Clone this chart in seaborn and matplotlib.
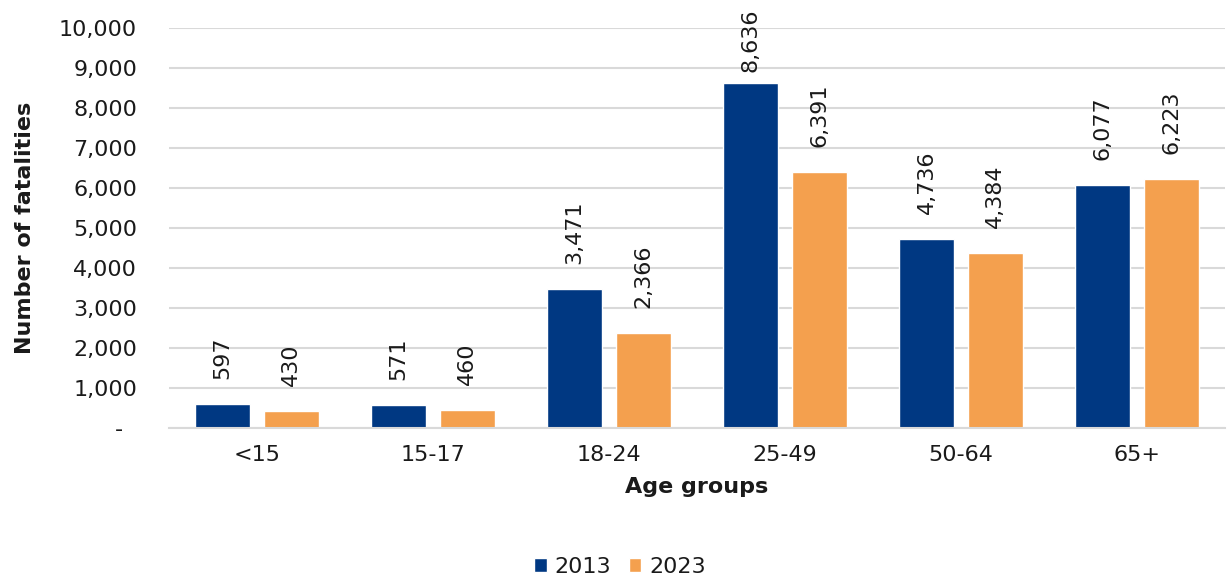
import pandas as pd
import matplotlib.pyplot as plt
import seaborn as sns
from matplotlib.ticker import FuncFormatter

# data
age_groups = ["<15", "15-17", "18-24", "25-49", "50-64", "65+"]
years = ["2013", "2023"]
fatalities_2013 = [597, 571, 3471, 8636, 4736, 6077]
fatalities_2023 = [430, 460, 2366, 6391, 4384, 6223]

df = pd.DataFrame({
    "Age group": age_groups * 2,
    "Year": [years[0]] * len(age_groups) + [years[1]] * len(age_groups),
    "Fatalities": fatalities_2013 + fatalities_2023,
})

sns.set_theme(style="white")
plt.rcParams["font.family"] = ["DejaVu Sans"]

colors = {"2013": "#003882", "2023": "#F4A04E"}
FS = 16
TXT = "#1a1a1a"

fig = plt.figure(figsize=(12.28, 5.83), dpi=100)
ax = fig.add_axes([0.1376, 0.266, 0.86, 0.686])

sns.barplot(data=df, x="Age group", y="Fatalities", hue="Year",
            palette=colors, width=0.78, gap=0.2, ax=ax, saturation=1)

ax.set_ylim(0, 10000)

# value labels above bars, rotated; pushed down if they would leave the figure
ax_h_px = ax.get_position().height * fig.get_figheight() * fig.dpi
top_px = (1 - ax.get_position().y1) * fig.get_figheight() * fig.dpi
label_len_px = 66
for cont in ax.containers:
    for bar, v in zip(cont, cont.datavalues):
        bar_top = top_px + (10000 - v) / 10000 * ax_h_px
        pad_px = min(25, bar_top - label_len_px - 6)
        ax.annotate(f"{v:,.0f}", (bar.get_x() + bar.get_width() / 2, v),
                    xytext=(0, pad_px * 72 / fig.dpi), textcoords="offset points",
                    rotation=90, ha="center", va="bottom", fontsize=FS, color=TXT,
                    annotation_clip=False)

# accounting style: zero shown as a dash
ax.set_yticks(range(0, 10001, 1000))
ax.yaxis.set_major_formatter(FuncFormatter(lambda v, p: "-  " if v == 0 else f"{v:,.0f}"))
ax.grid(axis="y", color="#d9d9d9", linewidth=1.5)
ax.set_axisbelow(True)
for s in ["top", "right", "left"]:
    ax.spines[s].set_visible(False)
ax.spines["bottom"].set_color("#d9d9d9")
ax.spines["bottom"].set_linewidth(1.5)

ax.tick_params(axis="both", length=0, labelsize=FS, colors=TXT)
ax.tick_params(axis="y", pad=23)
ax.tick_params(axis="x", pad=12)
ax.set_xlabel("Age groups", fontsize=FS, fontweight="bold", labelpad=9, color=TXT)
ax.set_ylabel("Number of fatalities", fontsize=FS, fontweight="bold", labelpad=17, color=TXT)

handles, labels = ax.get_legend_handles_labels()
ax.get_legend().remove()
fig.legend(handles, labels, loc="center", bbox_to_anchor=(620 / 1228, 1 - 567 / 583),
           ncol=2, frameon=False, fontsize=FS, handlelength=0.55, handleheight=0.55,
           handletextpad=0.35, columnspacing=0.8, labelcolor=TXT)

fig.savefig("out.png", dpi=100)
